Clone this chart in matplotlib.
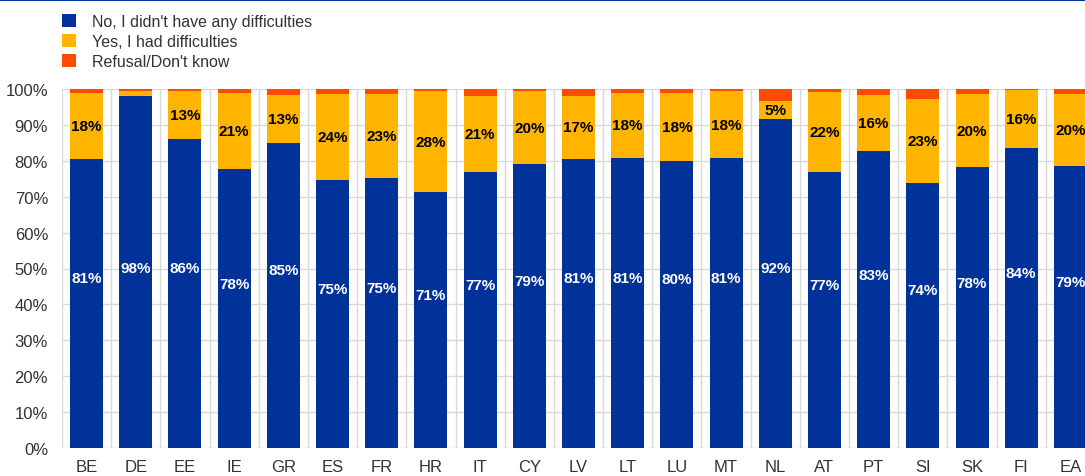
import matplotlib.pyplot as plt
import numpy as np

# Data (share of respondents, %)
countries = ["BE", "DE", "EE", "IE", "GR", "ES", "FR", "HR", "IT", "CY", "LV",
             "LT", "LU", "MT", "NL", "AT", "PT", "SI", "SK", "FI", "EA"]
no_diff = [80.6, 98.0, 86.0, 77.6, 85.0, 74.6, 75.2, 71.2, 76.8, 79.0, 80.6,
           80.8, 80.0, 80.8, 91.7, 76.9, 82.6, 73.8, 78.2, 83.6, 78.6]
yes_diff = [18.3, 1.4, 13.4, 21.3, 13.4, 24.0, 23.4, 28.2, 21.2, 20.5, 17.4,
            18.1, 18.8, 18.6, 4.9, 22.4, 15.6, 23.4, 20.4, 16.1, 20.0]
refusal = [1.1, 0.6, 0.6, 1.1, 1.6, 1.4, 1.4, 0.6, 2.0, 0.5, 2.0,
           1.1, 1.2, 0.6, 3.4, 0.7, 1.8, 2.8, 1.4, 0.3, 1.4]
labels_no = [81, 98, 86, 78, 85, 75, 75, 71, 77, 79, 81, 81, 80, 81, 92, 77, 83, 74, 78, 84, 79]
labels_yes = [18, None, 13, 21, 13, 24, 23, 28, 21, 20, 17, 18, 18, 18, 5, 22, 16, 23, 20, 16, 20]

series_names = ["No, I didn't have any difficulties", "Yes, I had difficulties", "Refusal/Don't know"]
BLUE = "#003299"
YELLOW = "#FFB400"
ORANGE = "#FF4B00"
GRID = "#D9D9D9"

plt.rcParams['font.family'] = ['Liberation Sans', 'DejaVu Sans']

fig = plt.figure(figsize=(10.85, 4.77), dpi=100)
ax = fig.add_axes([62 / 1085, 1 - 449 / 477, 1033 / 1085, 359 / 477])

x = np.arange(len(countries))
no_a = np.array(no_diff)
yes_a = np.array(yes_diff)
ref_a = np.array(refusal)
w = 0.67

b1 = ax.bar(x, no_a, w, color=BLUE, zorder=3)
b2 = ax.bar(x, yes_a, w, bottom=no_a, color=YELLOW, zorder=3)
b3 = ax.bar(x, ref_a, w, bottom=no_a + yes_a, color=ORANGE, zorder=3)

# bar labels
for i in range(len(countries)):
    yb = min(no_a[i] / 2 + 7, 50)
    ax.text(x[i], yb, f"{labels_no[i]}%", color="white", fontsize=11,
            fontweight="bold", ha="center", va="center", zorder=4)
    if labels_yes[i] is not None:
        ax.text(x[i], no_a[i] + yes_a[i] / 2, f"{labels_yes[i]}%", color="black",
                fontsize=11, fontweight="bold", ha="center", va="center", zorder=4)

# grid
ax.set_xlim(-0.5, len(countries) - 0.5)
ax.set_ylim(0, 100)
for yv in range(0, 101, 10):
    ax.axhline(yv, color=GRID, lw=1, zorder=1)
for xv in np.arange(-0.5, len(countries), 1.0):
    ax.axvline(xv, color=GRID, lw=1, zorder=1)
for s in ax.spines.values():
    s.set_visible(False)

ax.set_yticks(range(0, 101, 10))
ax.set_yticklabels([f"{v}%" for v in range(0, 101, 10)])
ax.set_xticks(x)
ax.set_xticklabels(countries)
ax.tick_params(axis="both", length=0, labelsize=12, colors="#333333")
ax.tick_params(axis="y", pad=10)
ax.tick_params(axis="x", pad=8)

# legend
fig.legend([b1, b2, b3], series_names, loc="upper left",
           bbox_to_anchor=(48 / 1085, 1 - 1 / 477), frameon=False, fontsize=11.5,
           handlelength=0.85, handleheight=0.85, handletextpad=1.0,
           labelspacing=0.3, labelcolor="#333333")

# top border line
fig.add_artist(plt.Line2D([0, 1], [0.998, 0.998], color=BLUE, lw=1.5,
                          transform=fig.transFigure))

fig.savefig("out.png", dpi=100)
